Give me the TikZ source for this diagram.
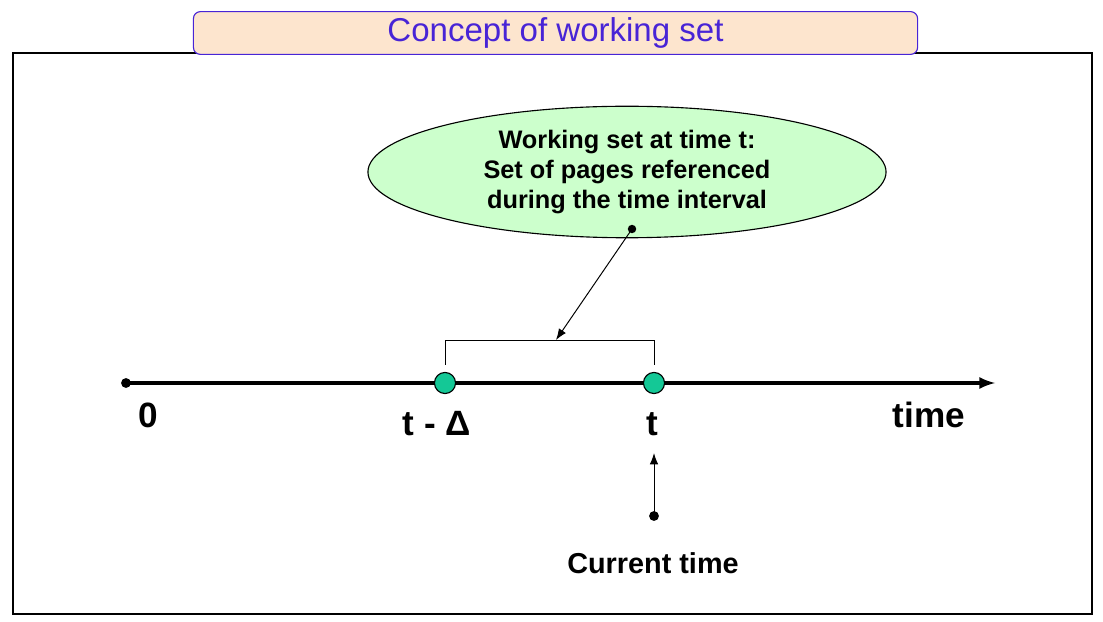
\documentclass[tikz,border=0pt]{standalone}
\usepackage{fontspec}
\setmainfont{Liberation Sans}
\definecolor{titleFill}{RGB}{253, 229, 206}
\definecolor{titleBlue}{RGB}{72, 36, 214}
\definecolor{bubbleGreen}{RGB}{204, 255, 204}
\definecolor{dotGreen}{RGB}{20, 200, 150}
\usepackage{tikz}
\usetikzlibrary{shapes.geometric,arrows.meta}

\begin{document}
\begin{tikzpicture}[x=0.025cm,y=-0.025cm,
    smalldot/.style={circle,fill=black,inner sep=0pt,minimum size=7pt},
    greendot/.style={circle,draw=black,fill=dotGreen,line width=0.8pt,inner sep=0pt,minimum size=15pt},
    ticklabel/.style={font=\bfseries\fontsize{25}{28}\selectfont},
    pointer/.style={-{Latex[length=8pt,width=6pt]},line width=0.7pt}]
        \useasboundingbox (0,0) rectangle (1103,622);
        % frame and title
        \draw[line width=0.8pt] (13,53) rectangle (1092,614);
        \node[draw=titleBlue,rounded corners=5pt,fill=titleFill,text=titleBlue,line width=0.8pt,minimum width=18.1cm,minimum height=1.07cm,font=\fontsize{23.5}{26}\selectfont] (title) at (555.5,33) {Concept of working set};
        % bubble
        \node[ellipse,draw,fill=bubbleGreen,line width=0.8pt,minimum width=12.95cm,minimum height=3cm,align=center,font=\bfseries\fontsize{18}{21.3}\selectfont] (bubble) at (627,172) {Working set at time t:\\Set of pages referenced\\during the time interval};
        \node[smalldot,minimum size=6pt] (bdot) at (632,229) {};
        % time axis
        \node[smalldot] (origin) at (126,383) {};
        \coordinate (axend) at (995,383);
        \draw[-latex,line width=2.8pt] (origin.center) -- (axend);
        \node[greendot] (tdelta) at (445,383) {};
        \node[greendot] (tnow) at (654,383) {};
        % interval bracket
        \coordinate (brl) at (445,340);
        \coordinate (brr) at (654,340);
        \coordinate (brmid) at (556,340);
        \draw[line width=0.7pt] ([yshift=5pt]tdelta.north) -- (brl) -- (brr) -- ([yshift=5pt]tnow.north);
        \draw[pointer] (bdot.center) -- (brmid);
        % labels
        \node[ticklabel] (zero) at (148,415) {0};
        \node[ticklabel] (tdlabel) at (437,424) {t - Δ};
        \node[ticklabel] (tlabel) at (652,424) {t};
        \node[ticklabel] (timelabel) at (929,415) {time};
        % current time
        \node[smalldot] (cdot) at (654,516) {};
        \coordinate (ctip) at (654,453);
        \draw[pointer] (cdot.center) -- (ctip);
        \node[font=\bfseries\fontsize{20.5}{24}\selectfont] (curlabel) at (653,563) {Current time};
      \end{tikzpicture}
\end{document}
